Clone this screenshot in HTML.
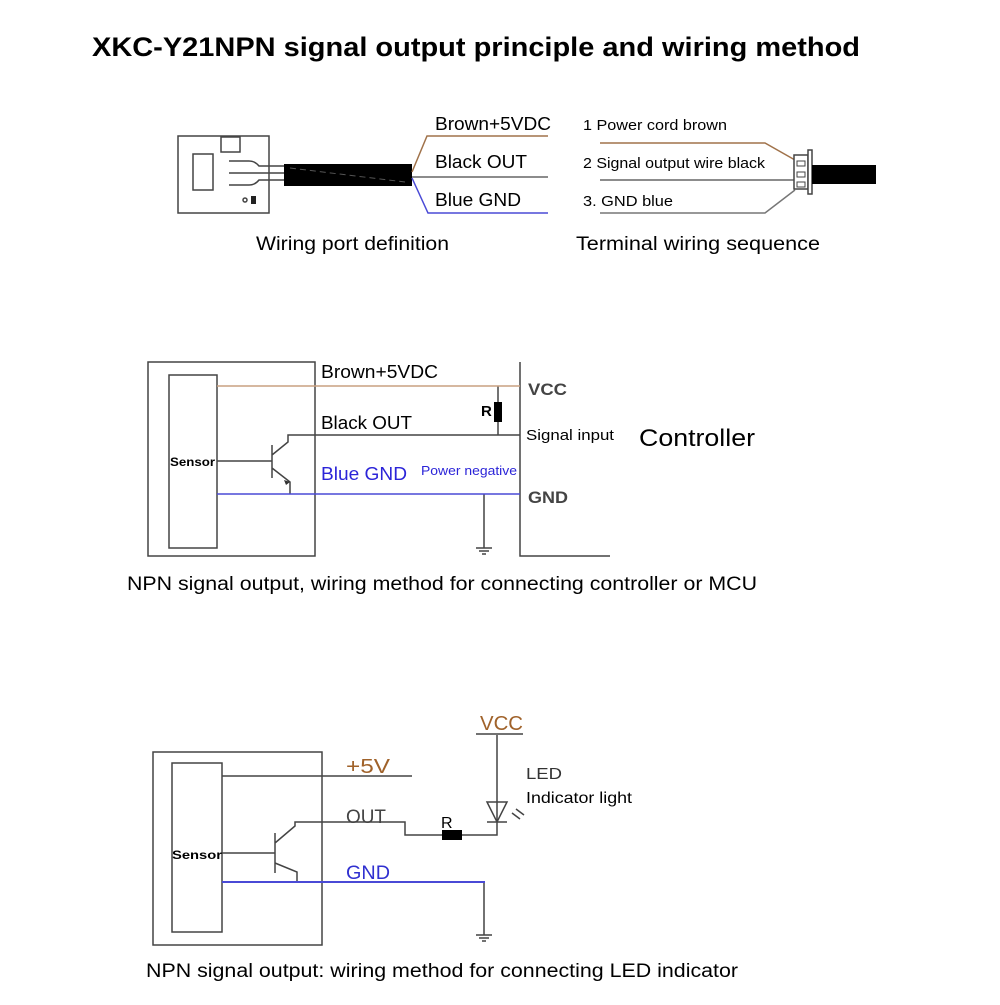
<!DOCTYPE html>
<html><head><style>
body{margin:0;background:#fff;}
svg text{font-family:"Liberation Sans",Arial,sans-serif;}
</style></head><body>
<svg width="1000" height="1000" xmlns="http://www.w3.org/2000/svg">
<text x="92" y="56" font-size="27" font-weight="bold" fill="#000" textLength="768" lengthAdjust="spacingAndGlyphs">XKC-Y21NPN signal output principle and wiring method</text>
<!-- Top left board -->
<g stroke="#444" fill="none" stroke-width="1.5">
<rect x="178" y="136" width="91" height="77"/>
<rect x="193" y="154" width="20" height="36"/>
<rect x="221" y="137" width="19" height="15"/>
<path d="M229 161 h20 q6 0 10 5 h26 M229 173 h56 M229 185 h20 q6 0 10 -5 h26"/>
<circle cx="245" cy="200" r="2"/>
</g>
<rect x="251" y="196" width="5" height="8" fill="#222"/>
<rect x="284" y="164" width="128" height="22" fill="#000"/>
<line x1="290" y1="168" x2="405" y2="182" stroke="#555" stroke-dasharray="6,4"/>
<path d="M412 172 L427 136 H548" stroke="#a0724a" fill="none" stroke-width="1.5"/>
<path d="M412 177 H548" stroke="#666" fill="none" stroke-width="1.5"/>
<path d="M412 178 L428 213 H548" stroke="#4a4ad6" fill="none" stroke-width="1.5"/>
<text x="435" y="130" font-size="18" textLength="116" lengthAdjust="spacingAndGlyphs">Brown+5VDC</text>
<text x="435" y="168" font-size="18" textLength="92" lengthAdjust="spacingAndGlyphs">Black OUT</text>
<text x="435" y="206" font-size="18" textLength="86" lengthAdjust="spacingAndGlyphs">Blue GND</text>
<text x="256" y="250" font-size="19" textLength="193" lengthAdjust="spacingAndGlyphs">Wiring port definition</text>
<!-- Top right -->
<text x="583" y="130" font-size="15" textLength="144" lengthAdjust="spacingAndGlyphs">1 Power cord brown</text>
<text x="583" y="168" font-size="15" textLength="182" lengthAdjust="spacingAndGlyphs">2 Signal output wire black</text>
<text x="583" y="206" font-size="15" textLength="90" lengthAdjust="spacingAndGlyphs">3. GND blue</text>
<path d="M600 143 H765 L795 160" stroke="#a0724a" fill="none" stroke-width="1.5"/>
<path d="M600 180 H795" stroke="#666" fill="none" stroke-width="1.5"/>
<path d="M600 213 H765 L795 190" stroke="#777" fill="none" stroke-width="1.5"/>
<rect x="794" y="155" width="14" height="34" fill="#fff" stroke="#444" stroke-width="1.5"/>
<rect x="808" y="150" width="4" height="44" fill="#fff" stroke="#444" stroke-width="1.5"/>
<g fill="none" stroke="#444"><rect x="797" y="161" width="8" height="5"/><rect x="797" y="172" width="8" height="5"/><rect x="797" y="182" width="8" height="5"/></g>
<rect x="812" y="165" width="64" height="19" fill="#000"/>
<text x="576" y="250" font-size="19" textLength="244" lengthAdjust="spacingAndGlyphs">Terminal wiring sequence</text>

<!-- Middle -->
<g stroke="#444" fill="none" stroke-width="1.5">
<rect x="148" y="362" width="167" height="194"/>
<rect x="169" y="375" width="48" height="173"/>
<path d="M520 362 V556 H610"/>
<path d="M217 461 H272 M272 445 V478 M272 455 L288 442 V435 H520 M272 468 L290 482 V494"/>
<path d="M498 386 V435"/>
<path d="M484 494 V548 M476 548 H492 M479 551 H489 M482 554 H486"/>
</g>
<path d="M217 386 H520" stroke="#c8a080" stroke-width="1.5"/>
<path d="M217 494 H520" stroke="#4a4ad6" stroke-width="1.5"/>
<rect x="494" y="402" width="8" height="20" fill="#000"/>
<path d="M284 480 l6 2 l-4 3z" fill="#333"/>
<text x="481" y="416" font-size="15" font-weight="bold">R</text>
<text x="170" y="466" font-size="12" font-weight="bold" textLength="45" lengthAdjust="spacingAndGlyphs">Sensor</text>
<text x="321" y="378" font-size="18" textLength="117" lengthAdjust="spacingAndGlyphs">Brown+5VDC</text>
<text x="321" y="429" font-size="18" textLength="91" lengthAdjust="spacingAndGlyphs">Black OUT</text>
<text x="321" y="480" font-size="18" fill="#2b24d8" textLength="86" lengthAdjust="spacingAndGlyphs">Blue GND</text>
<text x="421" y="475" font-size="13" fill="#2b24d8" textLength="96" lengthAdjust="spacingAndGlyphs">Power negative</text>
<text x="528" y="395" font-size="17" font-weight="bold" fill="#444" textLength="39" lengthAdjust="spacingAndGlyphs">VCC</text>
<text x="526" y="440" font-size="15" textLength="88" lengthAdjust="spacingAndGlyphs">Signal input</text>
<text x="528" y="503" font-size="17" font-weight="bold" fill="#444" textLength="40" lengthAdjust="spacingAndGlyphs">GND</text>
<text x="639" y="446" font-size="24" textLength="116" lengthAdjust="spacingAndGlyphs">Controller</text>
<text x="127" y="590" font-size="19" textLength="630" lengthAdjust="spacingAndGlyphs">NPN signal output, wiring method for connecting controller or MCU</text>

<!-- Bottom -->
<g stroke="#444" fill="none" stroke-width="1.5">
<rect x="153" y="752" width="169" height="193"/>
<rect x="172" y="763" width="50" height="169"/>
<path d="M222 776 H412"/>
<path d="M222 853 H275 M275 833 V873 M275 843 L295 826 V822 H405 V835 H442 M462 835 H497 V822"/>
<path d="M275 863 L297 872 V882"/>
<path d="M497 735 V822 M476 734 H523"/>
<path d="M487 802 H507 L497 822 Z M487 822 H507"/>
<path d="M512 813 l8 6 M516 809 l8 6"/>
<path d="M484 882 V935 M476 935 H492 M479 938 H489 M482 941 H486"/>
</g>
<path d="M222 882 H485" stroke="#4a4ad6" stroke-width="2"/>
<rect x="442" y="830" width="20" height="10" fill="#000"/>
<text x="441" y="828" font-size="16">R</text>
<text x="172" y="859" font-size="12" font-weight="bold" textLength="50" lengthAdjust="spacingAndGlyphs">Sensor</text>
<text x="346" y="773" font-size="20" fill="#a0622a" textLength="44" lengthAdjust="spacingAndGlyphs">+5V</text>
<text x="346" y="823" font-size="19" fill="#444" textLength="40" lengthAdjust="spacingAndGlyphs">OUT</text>
<text x="346" y="879" font-size="19" fill="#3030d0" textLength="44" lengthAdjust="spacingAndGlyphs">GND</text>
<text x="480" y="730" font-size="20" fill="#a0622a" textLength="43" lengthAdjust="spacingAndGlyphs">VCC</text>
<text x="526" y="779" font-size="16" fill="#333" textLength="36" lengthAdjust="spacingAndGlyphs">LED</text>
<text x="526" y="803" font-size="16" textLength="106" lengthAdjust="spacingAndGlyphs">Indicator light</text>
<text x="146" y="977" font-size="19" textLength="592" lengthAdjust="spacingAndGlyphs">NPN signal output: wiring method for connecting LED indicator</text>
</svg>
</body></html>
